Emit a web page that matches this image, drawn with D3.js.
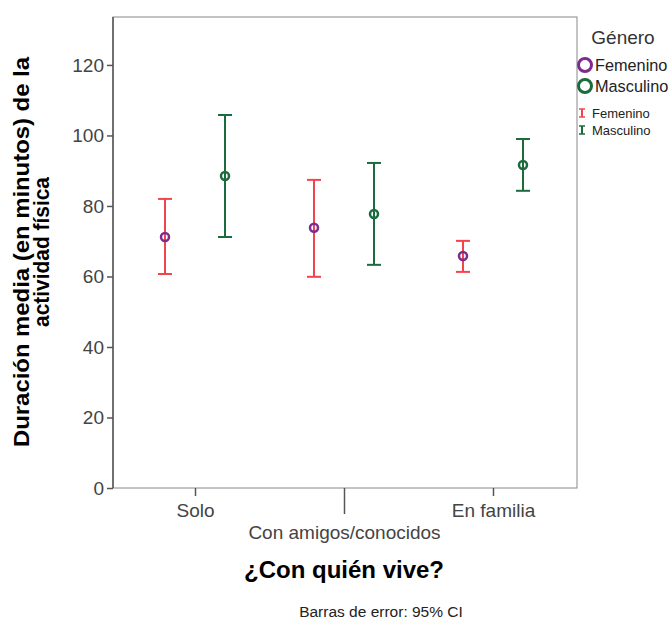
<!DOCTYPE html>
<html><head><meta charset="utf-8">
<script src="https://cdn.jsdelivr.net/npm/d3@7"></script>
<style>body{margin:0;background:#fff}svg{display:block;font-family:Arial,"Liberation Sans",sans-serif}</style>
</head><body><div id="c"></div>
<script>
const categories = ["Solo", "Con amigos/conocidos", "En familia"];
const genders = ["Femenino", "Masculino"];
const means = { Femenino: [71.2, 73.8, 65.8], Masculino: [88.5, 77.7, 91.6] };
const lower = { Femenino: [60.7, 59.9, 61.3], Masculino: [71.2, 63.3, 84.3] };
const upper = { Femenino: [82.0, 87.4, 70.1], Masculino: [105.8, 92.2, 99.0] };
const yTicks = [0, 20, 40, 60, 80, 100, 120];

const W = 670, H = 619;
const m = { left: 113, right: 577, top: 17, bottom: 488 };
const svg = d3.select("#c").append("svg").attr("width", W).attr("height", H);

const y = d3.scaleLinear().domain([0, 133.6]).range([m.bottom, m.top]);
const x = d3.scalePoint().domain(categories).range([195, 493]);
const xg = d3.scalePoint().domain(genders).range([-30, 30]);
const errColor = { Femenino: "#f2444f", Masculino: "#1c6b3c" };
const dotColor = { Femenino: "#7d2b8f", Masculino: "#1c6b3c" };
const FF = "Arial,'Liberation Sans',sans-serif";

// frame
svg.append("rect").attr("x", m.left).attr("y", m.top).attr("width", m.right - m.left).attr("height", m.bottom - m.top)
  .attr("fill", "none").attr("stroke", "#888").attr("stroke-width", 1);

// y axis
const ya = svg.append("g").attr("transform", `translate(${m.left},0)`)
  .call(d3.axisLeft(y).tickValues(yTicks).tickSize(6).tickPadding(3));
ya.select(".domain").attr("stroke", "#555").attr("stroke-width", 1.5).attr("d", `M0,${m.top}V${m.bottom}`);
ya.selectAll(".tick line").attr("stroke", "#555").attr("stroke-width", 1.5);
ya.selectAll("text").attr("font-size", 19).attr("fill", "#444").attr("font-family", FF);

// x axis
const xa = svg.append("g").attr("transform", `translate(0,${m.bottom})`)
  .call(d3.axisBottom(x).tickSize(0));
xa.select(".domain").remove();
xa.selectAll(".tick").each(function (d, i) {
  const g = d3.select(this);
  const len = i === 1 ? 26 : 8;
  g.select("line").attr("y2", len).attr("stroke", "#555").attr("stroke-width", 1.5);
  g.select("text").attr("y", i === 1 ? 51 : 29).attr("dy", 0)
    .attr("font-size", 19).attr("fill", "#444").attr("font-family", FF);
});

// error bars + points
const data = [];
genders.forEach(g => categories.forEach((c, i) => data.push({ g, c, mean: means[g][i], lo: lower[g][i], hi: upper[g][i] })));
const eb = svg.append("g").selectAll("g").data(data).join("g")
  .attr("transform", d => `translate(${x(d.c) + xg(d.g)},0)`);
eb.append("line").attr("y1", d => y(d.lo)).attr("y2", d => y(d.hi)).attr("stroke", d => errColor[d.g]).attr("stroke-width", 2);
eb.append("line").attr("x1", -7).attr("x2", 7).attr("y1", d => y(d.hi)).attr("y2", d => y(d.hi)).attr("stroke", d => errColor[d.g]).attr("stroke-width", 2);
eb.append("line").attr("x1", -7).attr("x2", 7).attr("y1", d => y(d.lo)).attr("y2", d => y(d.lo)).attr("stroke", d => errColor[d.g]).attr("stroke-width", 2);
eb.append("circle").attr("cy", d => y(d.mean)).attr("r", 4).attr("fill", "none").attr("stroke", d => dotColor[d.g]).attr("stroke-width", 2.5);

// titles
const yTitle = ["Duración media (en minutos) de la", "actividad física"];
const yTitleLen = [390, 150];
svg.append("text").attr("transform", "translate(32,252) rotate(-90)").attr("text-anchor", "middle")
  .attr("font-size", 22.5).attr("font-weight", "bold").attr("fill", "#000")
  .selectAll("tspan").data(yTitle).join("tspan")
  .attr("x", 0).attr("dy", (d, i) => i === 0 ? -3 : 20)
  .attr("textLength", (d, i) => yTitleLen[i]).attr("lengthAdjust", "spacingAndGlyphs")
  .text(d => d);
svg.append("text").attr("x", 344).attr("y", 578).attr("text-anchor", "middle")
  .attr("font-size", 24).attr("font-weight", "bold").text("¿Con quién vive?");
svg.append("text").attr("x", 381).attr("y", 617).attr("text-anchor", "middle")
  .attr("font-size", 15.5).attr("fill", "#222").text("Barras de error: 95% CI");

// legend
const lg = svg.append("g");
lg.append("text").attr("x", 623).attr("y", 44).attr("text-anchor", "middle").attr("font-size", 19).attr("fill", "#333").text("Género");
genders.forEach((g, i) => {
  lg.append("circle").attr("cx", 585).attr("cy", 65 + i * 21).attr("r", 6.5).attr("fill", "none").attr("stroke", dotColor[g]).attr("stroke-width", 3);
  lg.append("text").attr("x", 595).attr("y", 71 + i * 21).attr("font-size", 16.3).attr("fill", "#222").text(g);
  const yy = 113 + i * 17;
  lg.append("line").attr("x1", 582).attr("x2", 582).attr("y1", yy - 4).attr("y2", yy + 4).attr("stroke", errColor[g]).attr("stroke-width", 2);
  lg.append("line").attr("x1", 579).attr("x2", 585).attr("y1", yy - 4).attr("y2", yy - 4).attr("stroke", errColor[g]).attr("stroke-width", 1.5);
  lg.append("line").attr("x1", 579).attr("x2", 585).attr("y1", yy + 4).attr("y2", yy + 4).attr("stroke", errColor[g]).attr("stroke-width", 1.5);
  lg.append("text").attr("x", 592).attr("y", yy + 5).attr("font-size", 13).attr("fill", "#222").text(g);
});
</script></body></html>
